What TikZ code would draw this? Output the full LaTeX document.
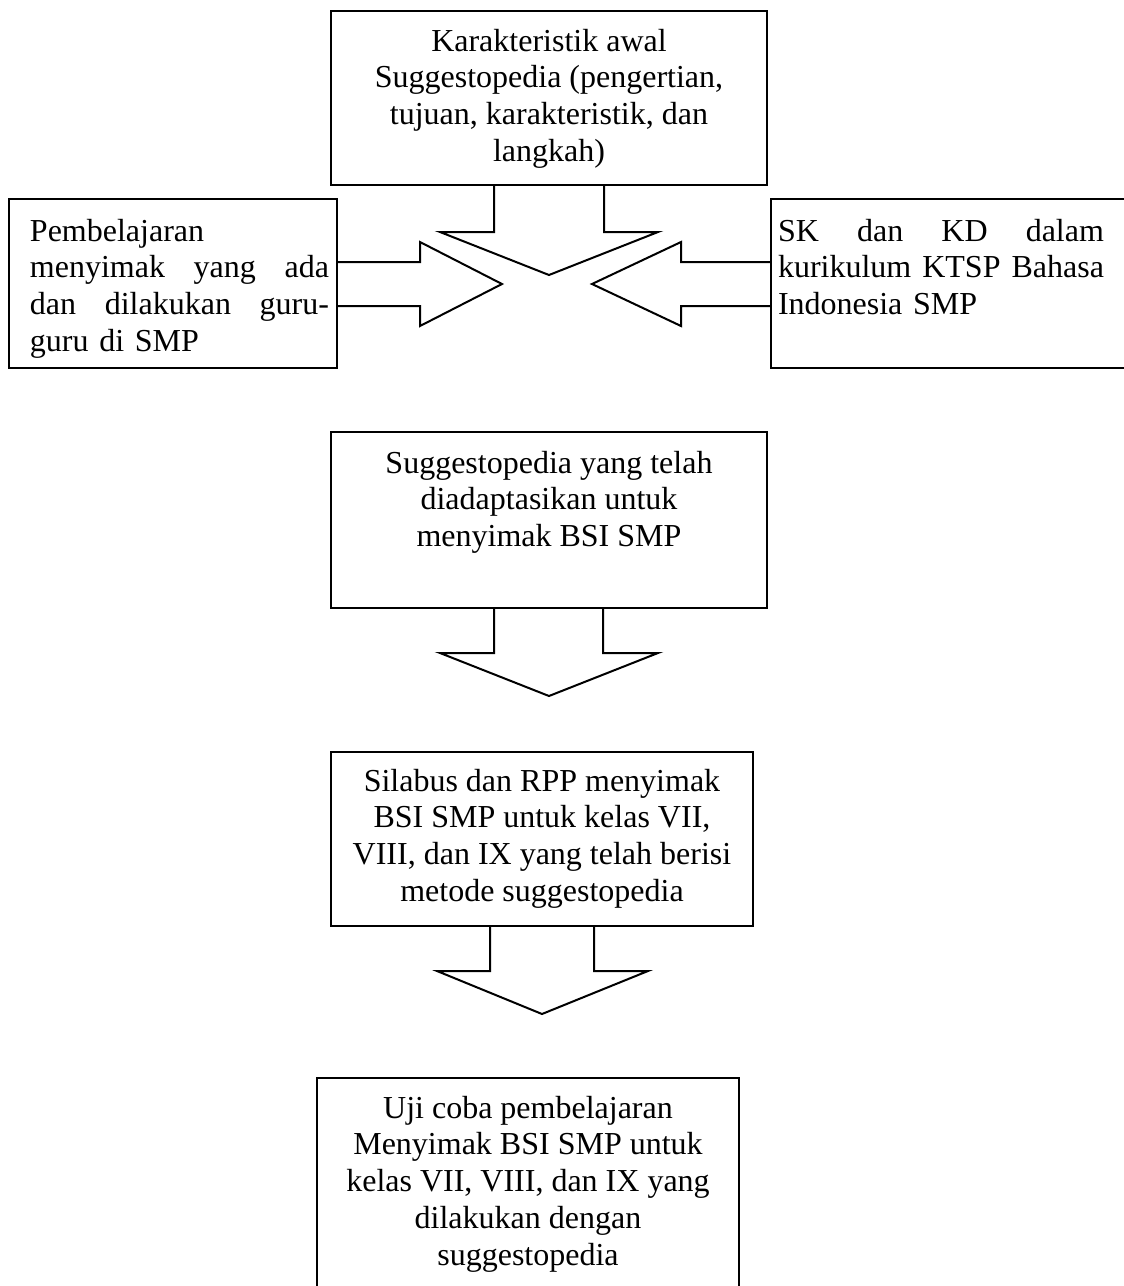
\documentclass[tikz,border=0pt]{standalone}
\usepackage{fontspec}
\setmainfont{Liberation Serif}
\usetikzlibrary{calc}
\begin{document}
\begin{tikzpicture}[x=1pt,y=-1pt,line width=2pt,line join=miter,
  box/.style={draw,line width=2pt,inner sep=0pt,rectangle},
  txt/.style={inner sep=0pt,anchor=north,align=center,font=\fontsize{32}{36.8}\selectfont},
  jtxt/.style={inner sep=0pt,anchor=north west,align=left,font=\fontsize{32}{36.8}\selectfont},
  blockarrow/.style={draw,line width=2pt,line join=miter}]
\useasboundingbox (0,0) rectangle (1124,1286);
% boxes
\node[box,minimum width=436pt,minimum height=174pt] (top) at (549,98) {};
\node[box,minimum width=328pt,minimum height=169pt] (left) at (173,283.5) {};
\node[box,minimum width=369pt,minimum height=169pt] (right) at (955.5,283.5) {};
\node[box,minimum width=436pt,minimum height=176pt] (mid) at (549,520) {};
\node[box,minimum width=422pt,minimum height=174pt] (syl) at (542,839) {};
\node[box,minimum width=422pt,minimum height=222pt] (uji) at (528,1189) {};
% texts
\node[txt] (ttop) at (549,24.24) {\strut Karakteristik awal\\Suggestopedia (pengertian,\\tujuan, karakteristik, dan\\langkah)};
\node[jtxt,text width=299pt] (tleft) at (29,214.24) {\strut Pembelajaran\\menyimak\hfill yang\hfill ada\\dan\hfill dilakukan\hfill guru-\\guru di SMP};
\node[jtxt,text width=326pt] (tright) at (777,214.24) {\strut SK\hfill dan\hfill KD\hfill dalam\\kurikulum\hfill KTSP\hfill Bahasa\\Indonesia SMP};
\node[txt] (tmid) at (549,446.24) {\strut Suggestopedia yang telah\\diadaptasikan untuk\\menyimak BSI SMP};
\node[txt] (tsyl) at (542,764.24) {\strut Silabus dan RPP menyimak\\BSI SMP untuk kelas VII,\\VIII, dan IX yang telah berisi\\metode suggestopedia};
\node[txt] (tuji) at (528,1091.24) {\strut Uji coba pembelajaran\\Menyimak BSI SMP untuk\\kelas VII, VIII, dan IX yang\\dilakukan dengan\\suggestopedia};
% block arrows
\draw[blockarrow] ($(top.south)+(-55,0)$) -- ++(0,46) -- ++(-54,0) -- ($(top.south)+(0,89)$) -- ($(top.south)+(109,46)$) -- ++(-54,0) -- ($(top.south)+(55,0)$);
\draw[blockarrow] ($(left.east)+(0,-21.5)$) -- ++(82,0) -- ++(0,-20) -- ($(left.east)+(164,0.5)$) -- ($(left.east)+(82,42.5)$) -- ++(0,-20) -- ($(left.east)+(0,22.5)$);
\draw[blockarrow] ($(right.west)+(0,-21.5)$) -- ++(-89,0) -- ++(0,-20) -- ($(right.west)+(-178,0.5)$) -- ($(right.west)+(-89,42.5)$) -- ++(0,-20) -- ($(right.west)+(0,22.5)$);
\draw[blockarrow] ($(mid.south)+(-55,0)$) -- ++(0,44) -- ++(-54,0) -- ($(mid.south)+(0,87)$) -- ($(mid.south)+(109,44)$) -- ++(-55,0) -- ($(mid.south)+(54,0)$);
\draw[blockarrow] ($(syl.south)+(-52,0)$) -- ++(0,44) -- ++(-53,0) -- ($(syl.south)+(0,87)$) -- ($(syl.south)+(106,44)$) -- ++(-54,0) -- ($(syl.south)+(52,0)$);
\end{tikzpicture}
\end{document}
